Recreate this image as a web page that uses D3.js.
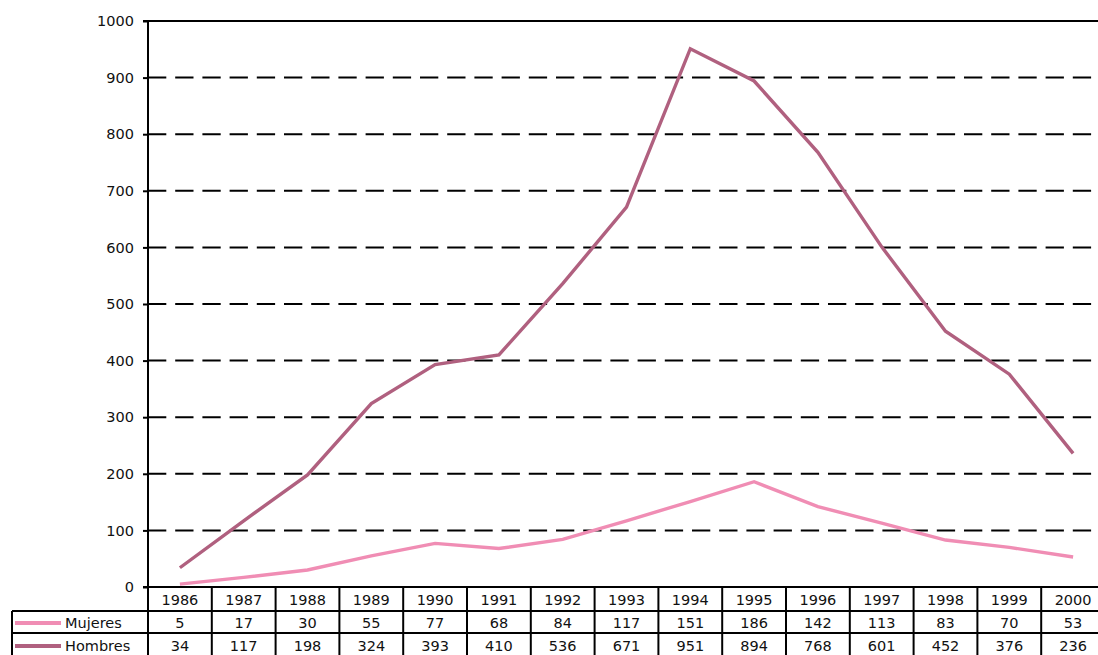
<!DOCTYPE html>
<html><head><meta charset="utf-8">
<script src="https://cdn.jsdelivr.net/npm/d3@7"></script>
<style>body{margin:0;background:#fff}svg{display:block}text{font-family:"DejaVu Sans",sans-serif;font-size:14.5px;fill:#111}</style>
</head><body><svg id="c" width="1098" height="655"></svg>
<script>
const years = ["1986","1987","1988","1989","1990","1991","1992","1993","1994","1995","1996","1997","1998","1999","2000"];
const mujeres = [5,17,30,55,77,68,84,117,151,186,142,113,83,70,53];
const hombres = [34,117,198,324,393,410,536,671,951,894,768,601,452,376,236];
const yTicks = [0,100,200,300,400,500,600,700,800,900,1000];
const seriesNames = ["Mujeres","Hombres"];
const seriesColors = ["#f08db4","#b0607f"];

const svg = d3.select("#c");
const L = 148, R = 1105, T = 21, B = 587;
const x = d3.scaleBand().domain(years).range([L, R]);
const y = d3.scaleLinear().domain([0, 1000]).range([B, T]);

// gridlines
svg.append("g").selectAll("line").data(yTicks.filter(d => d > 0)).join("line")
  .attr("x1", L).attr("x2", d => d === 1000 ? R : 1092).attr("y1", d => y(d)).attr("y2", d => y(d))
  .attr("stroke", "#000").attr("stroke-width", 2)
  .attr("stroke-dasharray", d => d === 1000 ? null : "18.3,8.9");

// y axis
const ya = svg.append("g").attr("transform", `translate(${L},0)`)
  .call(d3.axisLeft(y).tickValues(yTicks).tickSize(5).tickPadding(9).tickFormat(d3.format("d")));
ya.select(".domain").attr("stroke", "#000").attr("stroke-width", 2).attr("d", `M-5,${T}H0V${B}`);
ya.selectAll(".tick line").attr("stroke", "#000").attr("stroke-width", 2);
ya.selectAll(".tick text").attr("font-size", 14.5).attr("font-family", "DejaVu Sans").attr("fill", "#111");

// lines
const line = d3.line().x((d, i) => x(years[i]) + x.bandwidth() / 2).y(d => y(d));
[mujeres, hombres].forEach((s, k) => {
  svg.append("path").datum(s).attr("d", line).attr("fill", "none")
    .attr("stroke", seriesColors[k]).attr("stroke-width", 3.4).attr("stroke-linejoin", "miter");
});

// table
const rowTop = [B, 611, 633, 657];
const g = svg.append("g");
const stroke = (x1, y1, x2, y2) => g.append("line").attr("x1", x1).attr("y1", y1).attr("x2", x2).attr("y2", y2)
  .attr("stroke", "#000").attr("stroke-width", 2);
stroke(L - 5, B, R, B);
stroke(12, rowTop[1], R, rowTop[1]);
stroke(12, rowTop[2], R, rowTop[2]);
stroke(12, rowTop[1], 12, 655);
years.forEach(yr => stroke(x(yr), B, x(yr), 655));
stroke(R, B, R, 655);

g.selectAll("text.yr").data(years).join("text").attr("class", "yr")
  .attr("x", d => x(d) + x.bandwidth() / 2).attr("y", (rowTop[0] + rowTop[1]) / 2 + 1)
  .attr("text-anchor", "middle").attr("dominant-baseline", "central").text(d => d);
[mujeres, hombres].forEach((s, k) => {
  const cy = (rowTop[k + 1] + rowTop[k + 2]) / 2 + 1;
  g.selectAll("text.v" + k).data(s).join("text").attr("class", "v" + k)
    .attr("x", (d, i) => x(years[i]) + x.bandwidth() / 2).attr("y", cy)
    .attr("text-anchor", "middle").attr("dominant-baseline", "central").text(d => d);
  g.append("line").attr("x1", 15).attr("x2", 61).attr("y1", cy).attr("y2", cy)
    .attr("stroke", seriesColors[k]).attr("stroke-width", 4);
  g.append("text").attr("x", 65).attr("y", cy).attr("dominant-baseline", "central").text(seriesNames[k]);
});
</script></body></html>
